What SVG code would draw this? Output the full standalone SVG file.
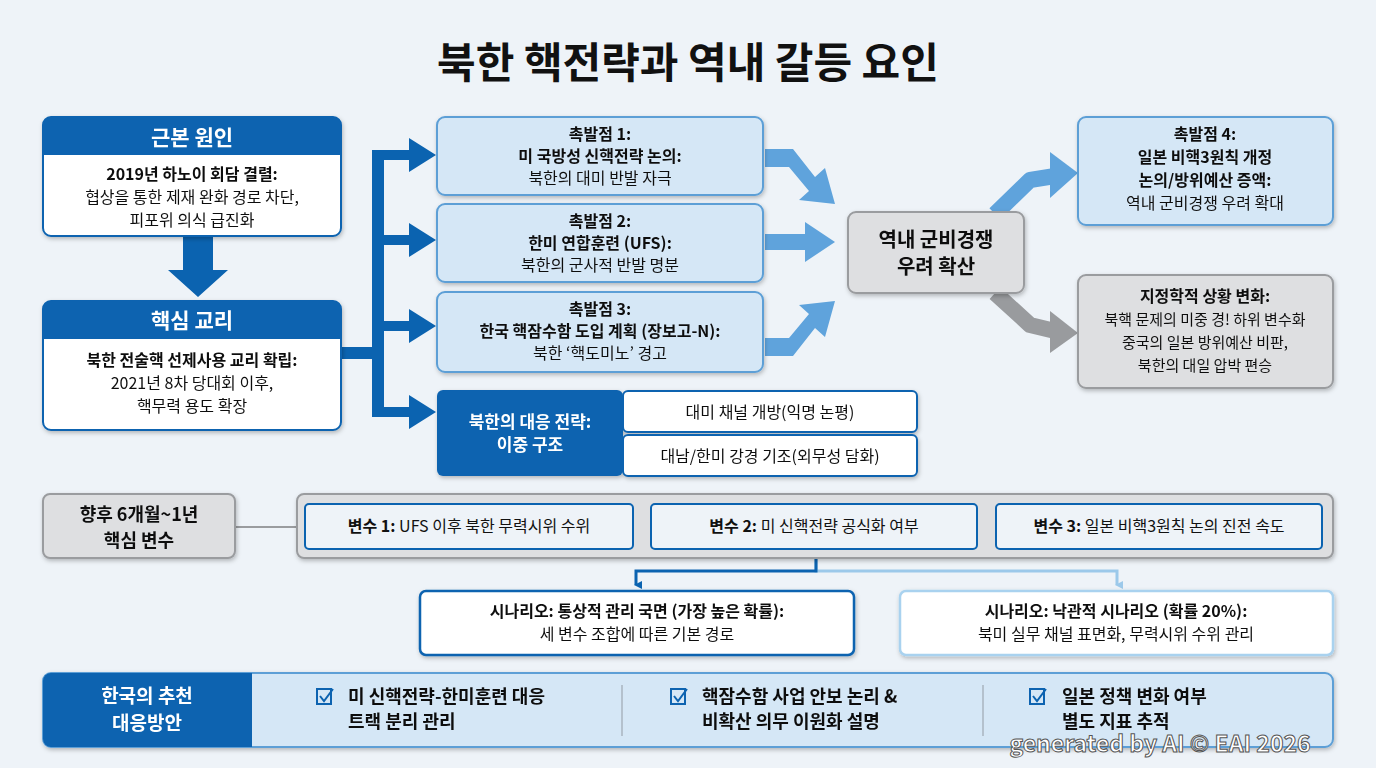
<svg xmlns="http://www.w3.org/2000/svg" width="1376" height="768" viewBox="0 0 1376 768">
<defs>
<style>
text{font-family:"Noto Sans CJK KR","Noto Sans",sans-serif;text-anchor:middle;fill:#111}
.b{font-weight:700}
.w{fill:#fff}
.dk{fill:#0b63b0}
.wb{fill:#fff;stroke:#0b63b0;stroke-width:2}
.lb{fill:#d5e7f6;stroke:#5d9fd6;stroke-width:2}
.gr{fill:#dedfe1;stroke:#9a9c9f;stroke-width:2}
</style>
<filter id="sh" x="-10%" y="-10%" width="120%" height="130%"><feDropShadow dx="1" dy="2" stdDeviation="2" flood-opacity="0.25"/></filter>
<marker id="ad" markerWidth="8" markerHeight="8" refX="4" refY="6" orient="auto" markerUnits="userSpaceOnUse"><path d="M0,0 L8,0 L4,8 z" fill="#0b63b0"/></marker>
<marker id="al" markerWidth="8" markerHeight="8" refX="4" refY="6" orient="auto" markerUnits="userSpaceOnUse"><path d="M0,0 L8,0 L4,8 z" fill="#9cc9ea"/></marker>
</defs>
<rect width="1376" height="768" fill="#eef3f8"/>
<text x="688" y="78" class="b" font-size="42">북한 핵전략과 역내 갈등 요인</text>

<g id="connectors">
<path d="M183,236 h30 v34 h15 l-30,27 l-30,-27 h15 z" class="dk"/>
<path d="M341,359 h31 v-209 h37 v-12 l27,17 l-27,17 v-12 h-25 v75 h25 v-12 l27,17 l-27,17 v-12 h-25 v76 h25 v-12 l27,17 l-27,17 v-12 h-25 v76 h25 v-12 l27,17 l-27,17 v-12 h-37 v-70 h-31 z" class="dk"/>
<g fill="#5fa3dc">
<path d="M765,149 h28 l22,28 l10,-9 l10,36 l-36,-4 l10,-9 l-20,-24 h-24 z"/>
<path d="M765,234 h40 v-12 l30,20 l-30,20 v-12 h-40 z"/>
<path d="M765,338 h24 l20,-24 l-10,-9 l36,-4 l-10,36 l-10,-9 l-22,28 h-28 z"/>
<path d="M995,214 L1030,180 L1055,176" fill="none" stroke="#5fa3dc" stroke-width="16" stroke-linejoin="round"/>
<path d="M1050,152 L1078,173 L1050,198 z"/>
</g>
<path d="M995,293 L1030,325 L1055,331" fill="none" stroke="#999b9e" stroke-width="16" stroke-linejoin="round"/>
<path d="M1050,311 L1078,333 L1050,353 z" fill="#999b9e"/>
<line x1="235" y1="527" x2="297" y2="527" stroke="#9a9c9f" stroke-width="2"/>
<path d="M816,549 v22 H1117 v14" fill="none" stroke="#9cc9ea" stroke-width="3" marker-end="url(#al)"/>
<path d="M816,549 v22 H636 v14" fill="none" stroke="#0b63b0" stroke-width="3" marker-end="url(#ad)"/>
</g>

<g id="root" filter="url(#sh)">
<rect x="43" y="117" width="298" height="119" rx="8" class="wb"/>
<path d="M51,117 h282 a8,8 0 0 1 8,8 v30 h-298 v-30 a8,8 0 0 1 8,-8 z" class="dk"/>
<text x="192" y="145" class="b w" font-size="21">근본 원인</text>
<text x="192" y="180" class="b" font-size="16">2019년 하노이 회담 결렬:</text>
<text x="192" y="203" font-size="16">협상을 통한 제재 완화 경로 차단,</text>
<text x="192" y="226" font-size="16">피포위 의식 급진화</text>
</g>
<g id="doctrine" filter="url(#sh)">
<rect x="43" y="301" width="298" height="129" rx="8" class="wb"/>
<path d="M51,301 h282 a8,8 0 0 1 8,8 v30 h-298 v-30 a8,8 0 0 1 8,-8 z" class="dk"/>
<text x="192" y="328" class="b w" font-size="21">핵심 교리</text>
<text x="192" y="366" class="b" font-size="16">북한 전술핵 선제사용 교리 확립:</text>
<text x="192" y="389" font-size="16">2021년 8차 당대회 이후,</text>
<text x="192" y="412" font-size="16">핵무력 용도 확장</text>
</g>
<g id="t1" filter="url(#sh)">
<rect x="437" y="117" width="326" height="78" rx="8" class="lb"/>
<text x="600" y="140" class="b" font-size="16">촉발점 1:</text>
<text x="600" y="162" class="b" font-size="16">미 국방성 신핵전략 논의:</text>
<text x="600" y="184" font-size="16">북한의 대미 반발 자극</text>
</g>
<g id="t2" filter="url(#sh)">
<rect x="437" y="204" width="326" height="78" rx="8" class="lb"/>
<text x="600" y="227" class="b" font-size="16">촉발점 2:</text>
<text x="600" y="249" class="b" font-size="16">한미 연합훈련 (UFS):</text>
<text x="600" y="271" font-size="16">북한의 군사적 반발 명분</text>
</g>
<g id="t3" filter="url(#sh)">
<rect x="437" y="292" width="326" height="80" rx="8" class="lb"/>
<text x="600" y="315" class="b" font-size="16">촉발점 3:</text>
<text x="600" y="337" class="b" font-size="16">한국 핵잠수함 도입 계획 (장보고-N):</text>
<text x="600" y="359" font-size="16">북한 ‘핵도미노’ 경고</text>
</g>
<g id="strategy" filter="url(#sh)">
<rect x="437" y="390" width="186" height="86" rx="6" class="dk"/>
<text x="530" y="428" class="b w" font-size="17">북한의 대응 전략:</text>
<text x="530" y="451" class="b w" font-size="17">이중 구조</text>
<rect x="623" y="391" width="294" height="41" rx="5" class="wb"/>
<text x="770" y="418" font-size="16">대미 채널 개방(익명 논평)</text>
<rect x="623" y="435" width="294" height="41" rx="5" class="wb"/>
<text x="770" y="462" font-size="16">대남/한미 강경 기조(외무성 담화)</text>
</g>
<g id="center" filter="url(#sh)">
<rect x="848" y="212" width="176" height="81" rx="8" class="gr"/>
<text x="936" y="247" class="b" font-size="20">역내 군비경쟁</text>
<text x="936" y="274" class="b" font-size="20">우려 확산</text>
</g>
<g id="t4" filter="url(#sh)">
<rect x="1078" y="117" width="255" height="108" rx="8" class="lb"/>
<text x="1205" y="140" class="b" font-size="16">촉발점 4:</text>
<text x="1205" y="163" class="b" font-size="16">일본 비핵3원칙 개정</text>
<text x="1205" y="186" class="b" font-size="16">논의/방위예산 증액:</text>
<text x="1205" y="209" font-size="16">역내 군비경쟁 우려 확대</text>
</g>
<g id="geo" filter="url(#sh)">
<rect x="1078" y="275" width="255" height="113" rx="8" class="gr"/>
<text x="1205" y="302" class="b" font-size="16">지정학적 상황 변화:</text>
<text x="1205" y="325" font-size="15">북핵 문제의 미중 경! 하위 변수화</text>
<text x="1205" y="348" font-size="15">중국의 일본 방위예산 비판,</text>
<text x="1205" y="371" font-size="15">북한의 대일 압박 편승</text>
</g>
<g id="horizon" filter="url(#sh)">
<rect x="43" y="494" width="192" height="64" rx="7" class="gr"/>
<text x="139" y="521" class="b" font-size="18">향후 6개월~1년</text>
<text x="139" y="547" class="b" font-size="18">핵심 변수</text>
</g>
<g id="vars">
<rect x="297" y="494" width="1036" height="64" rx="7" class="gr" filter="url(#sh)"/>
<rect x="305" y="504" width="328" height="45" rx="4" fill="#eef3f8" stroke="#0b63b0" stroke-width="2"/>
<text x="469" y="532" font-size="16"><tspan class="b">변수 1:</tspan> UFS 이후 북한 무력시위 수위</text>
<rect x="651" y="504" width="326" height="45" rx="4" fill="#eef3f8" stroke="#0b63b0" stroke-width="2"/>
<text x="814" y="532" font-size="16"><tspan class="b">변수 2:</tspan> 미 신핵전략 공식화 여부</text>
<rect x="996" y="504" width="326" height="45" rx="4" fill="#eef3f8" stroke="#0b63b0" stroke-width="2"/>
<text x="1159" y="532" font-size="16"><tspan class="b">변수 3:</tspan> 일본 비핵3원칙 논의 진전 속도</text>
</g>
<g id="s1" filter="url(#sh)">
<rect x="420" y="591" width="434" height="64" rx="6" fill="#fff" stroke="#0b63b0" stroke-width="2.5"/>
<text x="637" y="617" class="b" font-size="16">시나리오: 통상적 관리 국면 (가장 높은 확률):</text>
<text x="637" y="640" font-size="16">세 변수 조합에 따른 기본 경로</text>
</g>
<g id="s2" filter="url(#sh)">
<rect x="900" y="591" width="433" height="64" rx="6" fill="#fff" stroke="#a9d2ef" stroke-width="2.5"/>
<text x="1116" y="617" class="b" font-size="16">시나리오: 낙관적 시나리오 (확률 20%):</text>
<text x="1116" y="640" font-size="16">북미 실무 채널 표면화, 무력시위 수위 관리</text>
</g>
<g id="rec" filter="url(#sh)">
<rect x="43" y="673" width="1290" height="74" rx="8" fill="#d5e7f6" stroke="#5d9fd6" stroke-width="2"/>
<path d="M51,673 h201 v74 h-201 a8,8 0 0 1 -8,-8 v-58 a8,8 0 0 1 8,-8 z" class="dk"/>
<text x="147" y="703" class="b w" font-size="19">한국의 추천</text>
<text x="147" y="730" class="b w" font-size="19">대응방안</text>
<line x1="622" y1="685" x2="622" y2="736" stroke="#a9b4bf" stroke-width="1.5"/>
<line x1="983" y1="685" x2="983" y2="736" stroke="#a9b4bf" stroke-width="1.5"/>
<g fill="none" stroke="#0b63b0" stroke-width="2">
<rect x="317" y="689" width="14" height="15"/><path d="M320,696 l4,5 l9,-12"/>
<rect x="671" y="689" width="14" height="15"/><path d="M674,696 l4,5 l9,-12"/>
<rect x="1030" y="689" width="14" height="15"/><path d="M1033,696 l4,5 l9,-12"/>
</g>
<g class="b" font-size="18">
<text x="348" y="703" style="text-anchor:start">미 신핵전략-한미훈련 대응</text>
<text x="348" y="728" style="text-anchor:start">트랙 분리 관리</text>
<text x="702" y="703" style="text-anchor:start">핵잠수함 사업 안보 논리 &amp;</text>
<text x="702" y="728" style="text-anchor:start">비확산 의무 이원화 설명</text>
<text x="1062" y="703" style="text-anchor:start">일본 정책 변화 여부</text>
<text x="1062" y="728" style="text-anchor:start">별도 지표 추적</text>
</g>
</g>
<text x="1160" y="752" class="b" font-size="23" stroke="#555" stroke-width="1" style="fill:#fff">generated by AI © EAI 2026</text>
</svg>
